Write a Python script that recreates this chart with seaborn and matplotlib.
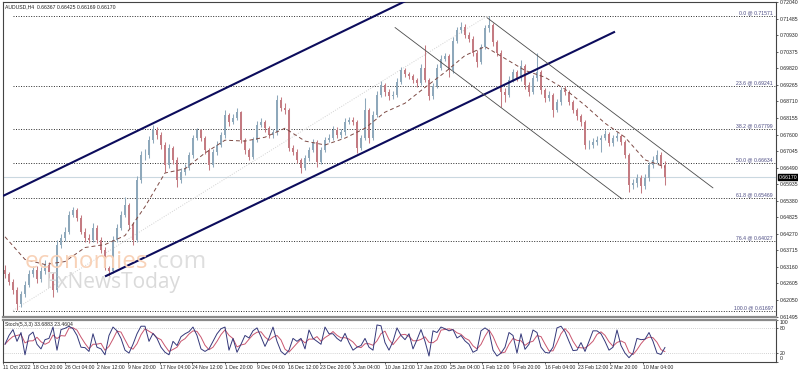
import numpy as np
import pandas as pd
import matplotlib
matplotlib.use("Agg")
import matplotlib.pyplot as plt
import matplotlib.transforms as mtransforms
import seaborn as sns

# ---- price data (AUDUSD, one candle per ~4 H4 bars) ----
first_open = 0.6307
closes = [
    0.6291, 0.6267, 0.6240, 0.6190, 0.6224, 0.6257, 0.6291, 0.6307, 0.6274, 0.6301,
    0.6324, 0.6291, 0.6240, 0.6391, 0.6414, 0.6434, 0.6491, 0.6508, 0.6481, 0.6434,
    0.6414, 0.6407, 0.6448, 0.6407, 0.6374, 0.6314, 0.6301, 0.6407, 0.6448, 0.6491,
    0.6524, 0.6458, 0.6407, 0.6608, 0.6691, 0.6691, 0.6741, 0.6775, 0.6758, 0.6725,
    0.6658, 0.6715, 0.6675, 0.6608, 0.6635, 0.6648, 0.6691, 0.6748, 0.6775, 0.6748,
    0.6708, 0.6658, 0.6701, 0.6725, 0.6758, 0.6825, 0.6802, 0.6815, 0.6835, 0.6741,
    0.6708, 0.6685, 0.6741, 0.6792, 0.6802, 0.6782, 0.6758, 0.6768, 0.6875, 0.6848,
    0.6842, 0.6715, 0.6701, 0.6675, 0.6648, 0.6681, 0.6708, 0.6735, 0.6668, 0.6708,
    0.6741, 0.6748, 0.6775, 0.6758, 0.6768, 0.6802, 0.6808, 0.6802, 0.6715, 0.6748,
    0.6842, 0.6748, 0.6825, 0.6892, 0.6925, 0.6902, 0.6888, 0.6892, 0.6935, 0.6975,
    0.6962, 0.6955, 0.6942, 0.6932, 0.6982, 0.6942, 0.6888, 0.6922, 0.6982, 0.7015,
    0.7022, 0.6975, 0.7075, 0.7109, 0.7122, 0.7095, 0.7082, 0.7035, 0.7002, 0.7055,
    0.7116, 0.7126, 0.7069, 0.7035, 0.6902, 0.6892, 0.6942, 0.6969, 0.6949, 0.6989,
    0.6925, 0.6902, 0.6949, 0.6969, 0.6908, 0.6882, 0.6892, 0.6842, 0.6868, 0.6908,
    0.6902, 0.6868, 0.6842, 0.6822, 0.6802, 0.6725, 0.6725, 0.6735, 0.6741, 0.6748,
    0.6761, 0.6731, 0.6748, 0.6755, 0.6735, 0.6691, 0.6591, 0.6598, 0.6615, 0.6588,
    0.6615, 0.6658, 0.6675, 0.6691, 0.6658, 0.6617,
]
highs = [
    0.6322, 0.6300, 0.6275, 0.6248, 0.6235, 0.6268, 0.6305, 0.6320, 0.6318, 0.6315,
    0.6338, 0.6332, 0.6300, 0.6407, 0.6428, 0.6450, 0.6502, 0.6518, 0.6515, 0.6490,
    0.6445, 0.6425, 0.6464, 0.6455, 0.6415, 0.6382, 0.6320, 0.6418, 0.6460, 0.6502,
    0.6551, 0.6532, 0.6466, 0.6620, 0.6705, 0.6712, 0.6755, 0.6791, 0.6785, 0.6768,
    0.6735, 0.6728, 0.6722, 0.6685, 0.6648, 0.6660, 0.6702, 0.6760, 0.6782, 0.6780,
    0.6755, 0.6715, 0.6712, 0.6738, 0.6770, 0.6842, 0.6832, 0.6828, 0.6848, 0.6840,
    0.6750, 0.6715, 0.6752, 0.6805, 0.6815, 0.6810, 0.6790, 0.6780, 0.6892, 0.6885,
    0.6865, 0.6848, 0.6725, 0.6710, 0.6682, 0.6692, 0.6718, 0.6745, 0.6742, 0.6718,
    0.6752, 0.6762, 0.6788, 0.6785, 0.6780, 0.6815, 0.6820, 0.6818, 0.6810, 0.6760,
    0.6882, 0.6850, 0.6838, 0.6905, 0.6938, 0.6932, 0.6912, 0.6905, 0.6948, 0.6985,
    0.6982, 0.6970, 0.6962, 0.6950, 0.6995, 0.7059, 0.6950, 0.6932, 0.6995, 0.7028,
    0.7035, 0.7030, 0.7088, 0.7120, 0.7136, 0.7130, 0.7105, 0.7090, 0.7042, 0.7065,
    0.7128, 0.7157, 0.7135, 0.7078, 0.7042, 0.6915, 0.6955, 0.6980, 0.6978, 0.7009,
    0.6995, 0.6935, 0.6960, 0.7032, 0.6975, 0.6915, 0.6905, 0.6900, 0.6880, 0.6918,
    0.6922, 0.6910, 0.6875, 0.6850, 0.6830, 0.6810, 0.6742, 0.6748, 0.6755, 0.6760,
    0.6775, 0.6768, 0.6758, 0.6768, 0.6762, 0.6742, 0.6698, 0.6610, 0.6628, 0.6625,
    0.6628, 0.6668, 0.6688, 0.6708, 0.6700, 0.6670,
]
lows = [
    0.6278, 0.6255, 0.6225, 0.6173, 0.6182, 0.6215, 0.6250, 0.6282, 0.6262, 0.6265,
    0.6292, 0.6280, 0.6216, 0.6232, 0.6380, 0.6402, 0.6425, 0.6482, 0.6470, 0.6425,
    0.6400, 0.6395, 0.6398, 0.6395, 0.6362, 0.6305, 0.6281, 0.6295, 0.6398, 0.6440,
    0.6482, 0.6448, 0.6391, 0.6400, 0.6598, 0.6675, 0.6682, 0.6732, 0.6745, 0.6712,
    0.6635, 0.6648, 0.6662, 0.6584, 0.6598, 0.6625, 0.6640, 0.6682, 0.6740, 0.6738,
    0.6695, 0.6641, 0.6650, 0.6692, 0.6718, 0.6750, 0.6790, 0.6795, 0.6808, 0.6730,
    0.6695, 0.6675, 0.6678, 0.6735, 0.6785, 0.6770, 0.6748, 0.6750, 0.6760, 0.6838,
    0.6830, 0.6705, 0.6690, 0.6665, 0.6631, 0.6640, 0.6672, 0.6700, 0.6651, 0.6660,
    0.6700, 0.6735, 0.6740, 0.6748, 0.6750, 0.6760, 0.6795, 0.6792, 0.6698, 0.6708,
    0.6740, 0.6731, 0.6740, 0.6818, 0.6885, 0.6890, 0.6875, 0.6878, 0.6885, 0.6928,
    0.6952, 0.6945, 0.6932, 0.6918, 0.6925, 0.6935, 0.6875, 0.6880, 0.6915, 0.6975,
    0.7005, 0.6952, 0.6968, 0.7068, 0.7100, 0.7085, 0.7070, 0.7022, 0.6985, 0.6995,
    0.7048, 0.7105, 0.7058, 0.7022, 0.6852, 0.6870, 0.6885, 0.6935, 0.6938, 0.6940,
    0.6912, 0.6890, 0.6895, 0.6940, 0.6895, 0.6870, 0.6872, 0.6818, 0.6835, 0.6860,
    0.6892, 0.6858, 0.6832, 0.6810, 0.6790, 0.6712, 0.6710, 0.6715, 0.6725, 0.6702,
    0.6740, 0.6720, 0.6722, 0.6738, 0.6725, 0.6680, 0.6568, 0.6578, 0.6585, 0.6564,
    0.6578, 0.6605, 0.6648, 0.6665, 0.6648, 0.6591,
]

# dashed moving average, read every 5 candles
ma_idx = list(range(0, 166, 5))
ma_vals = [
    0.6417, 0.6341, 0.6324, 0.6334, 0.6381, 0.6391, 0.6421, 0.6518, 0.6631, 0.6645,
    0.6698, 0.6741, 0.6738, 0.6751, 0.6781, 0.6738, 0.6725, 0.6748, 0.6781, 0.6835,
    0.6865, 0.6918, 0.6969, 0.7025, 0.7055, 0.7015, 0.6975, 0.6952, 0.6912, 0.6858,
    0.6798, 0.6751, 0.6675, 0.6651,
]

# stochastic %K (5,3,3)
stoch_k = [
    41, 62, 76, 48, 69, 16, 62, 70, 41, 30,
    52, 55, 82, 27, 76, 79, 84, 78, 62, 34,
    33, 24, 66, 34, 30, 16, 62, 82, 73, 55,
    27, 20, 41, 66, 84, 84, 48, 67, 55, 34,
    22, 16, 48, 38, 59, 66, 71, 82, 62, 30,
    24, 30, 48, 66, 78, 82, 27, 55, 22, 41,
    62, 56, 73, 80, 59, 36, 56, 82, 48, 24,
    16, 27, 55, 48, 55, 30, 75, 55, 48, 41,
    82, 66, 66, 55, 48, 67, 45, 27, 34, 38,
    55, 34, 27, 87, 85, 45, 27, 48, 80, 62,
    52, 66, 30, 52, 76, 48, 13, 73, 69, 82,
    78, 73, 76, 56, 62, 49, 41, 22, 27, 73,
    80, 73, 27, 13, 20, 34, 69, 62, 20, 66,
    29, 41, 75, 69, 34, 22, 20, 34, 80, 84,
    71, 48, 26, 27, 45, 24, 48, 73, 73, 66,
    48, 27, 34, 75, 38, 20, 9, 20, 55, 52,
    53, 69, 48, 20, 16.7, 33.7,
]

# fibonacci retracement
fib_pcts = ["0.0", "23.6", "38.2", "50.0", "61.8", "76.4", "100.0"]
fib_levels = [0.71571, 0.69241, 0.67799, 0.66634, 0.65469, 0.64027, 0.61697]
fib_anchor = [(2.0, 0.61697), (120.5, 0.71571)]

# trend lines (candle index, price)
channel_upper = [(-0.5, 0.6554), (101.25, 0.7215)]
channel_lower = [(25.0, 0.6284), (152.5, 0.7105)]
down_upper = [(120.5, 0.7152), (177.0, 0.6581)]
down_lower = [(97.5, 0.7119), (154.25, 0.6544)]

last_price = 0.66170
price_ticks = [0.72040, 0.71485, 0.70930, 0.70375, 0.69820, 0.69265, 0.68710,
               0.68155, 0.67600, 0.67045, 0.66490, 0.65935, 0.65380, 0.64825,
               0.64270, 0.63715, 0.63160, 0.62605, 0.62050, 0.61495]
date_labels = ["11 Oct 2022", "18 Oct 20:00", "26 Oct 04:00", "2 Nov 12:00",
               "9 Nov 20:00", "17 Nov 04:00", "24 Nov 12:00", "1 Dec 20:00",
               "9 Dec 04:00", "16 Dec 12:00", "23 Dec 20:00", "3 Jan 04:00",
               "10 Jan 12:00", "17 Jan 20:00", "25 Jan 04:00", "1 Feb 12:00",
               "9 Feb 20:00", "16 Feb 04:00", "23 Feb 12:00", "2 Mar 20:00",
               "10 Mar 04:00"]
date_pos = [-0.5, 7.0, 15.0, 23.0, 30.75, 38.75, 46.75, 55.0, 63.0, 70.75,
            78.75, 87.0, 95.0, 103.0, 111.25, 119.25, 127.0, 135.0, 143.25,
            151.25, 159.5]

# ---- style ----
sns.set_theme(style="white")
plt.rcParams["font.family"] = ["Liberation Sans", "DejaVu Sans"]
FS = 3.7
UP = "#8ea8bb"
DOWN = "#c47b82"

W, H = 798, 372
fig = plt.figure(figsize=(W / 100, H / 100), dpi=100)
fig.patch.set_facecolor("white")


def box(l, t, r, b):
    return [l / W, 1 - b / H, (r - l) / W, (b - t) / H]


ax = fig.add_axes(box(3, 2, 776, 317))
axs = fig.add_axes(box(3, 319.5, 776, 361.5), sharex=ax)

df = pd.DataFrame({
    "idx": np.arange(len(closes)),
    "open": [first_open] + closes[:-1],
    "high": highs,
    "low": lows,
    "close": closes,
})
df["up"] = df["close"] >= df["open"]
cols = np.where(df["up"], UP, DOWN)

# watermark
fig.text(25 / W, 1 - 268 / H, "economies", fontsize=17.5, color="#f8d2b8",
         family="Open Sans", va="baseline", zorder=0)
fig.text(151 / W, 1 - 268 / H, ".com", fontsize=17.5, color="#dedede",
         family="Open Sans", va="baseline", zorder=0)
fig.text(46 / W, 1 - 288 / H, "FxNewsToday", fontsize=15, color="#dadada",
         family="Open Sans", va="baseline", zorder=0)
ax.set_facecolor("none")

# current price line
ax.axhline(last_price, color="#cad8e0", lw=0.8, zorder=1)

# fib lines
xmax = 192.75
for pct, lvl in zip(fib_pcts, fib_levels):
    ax.hlines(lvl, fib_anchor[0][0], xmax, colors="#2a2a2a", linestyles=(0, (1, 1.6)),
              lw=0.7, zorder=1)
    ax.text(192.0, lvl + 0.0002, f"{pct} @ {lvl:.5f}", ha="right", va="bottom",
            fontsize=FS, color="#4a4a82", zorder=5)
ax.plot([p[0] for p in fib_anchor], [p[1] for p in fib_anchor], color="#d2d2d2",
        ls=(0, (1, 1.5)), lw=0.7, zorder=1)

# candles
ax.vlines(df["idx"], df["low"], df["high"], colors=cols, lw=0.75, zorder=2)
body = (df["close"] - df["open"]).abs().clip(lower=0.00015)
ax.bar(df["idx"], body, bottom=df[["open", "close"]].min(axis=1), width=0.45,
       color=cols, linewidth=0, zorder=3)

# moving average
sns.lineplot(x=ma_idx, y=ma_vals, ax=ax, color="#7d4a44", lw=0.7,
             linestyle=(0, (4, 3)), zorder=4)

# trend lines
for line in (channel_upper, channel_lower):
    ax.plot([p[0] for p in line], [p[1] for p in line], color="#0c0c5c", lw=1.5,
            zorder=5, solid_capstyle="butt")
for line in (down_upper, down_lower):
    ax.plot([p[0] for p in line], [p[1] for p in line], color="#4a4a4a", lw=0.6, zorder=5)

ax.set_xlim(-0.5, xmax)
ax.set_ylim(0.61480, 0.72045)
ax.yaxis.tick_right()
ax.set_yticks(price_ticks)
ax.set_yticklabels([f"{v:.5f}" for v in price_ticks])
ax.tick_params(axis="y", labelsize=FS, length=1.5, pad=1, colors="#222", width=0.5)
ax.tick_params(axis="x", bottom=False, labelbottom=False)
ax.set_xlabel("")
ax.set_ylabel("")
ax.text(1.003, last_price, f"{last_price:.5f}",
        transform=mtransforms.blended_transform_factory(ax.transAxes, ax.transData),
        ha="left", va="center", fontsize=FS, color="white", zorder=6, clip_on=False,
        bbox=dict(boxstyle="square,pad=0.15", fc="black", ec="black"))
ax.text(0.002, 0.993, "AUDUSD,H4  0.66367 0.66425 0.66169 0.66170",
        transform=ax.transAxes, ha="left", va="top", fontsize=FS, color="#222")

for s in ax.spines.values():
    s.set_color("#444")
    s.set_linewidth(0.8)
ax.spines["bottom"].set_color("#8a8a8a")
ax.spines["bottom"].set_linewidth(1.6)

# stochastic panel
stoch_d = pd.Series(stoch_k).rolling(3, min_periods=1).mean()
axs.axhline(80, color="#c4c4c4", ls=(0, (1, 1.5)), lw=0.6)
axs.axhline(20, color="#c4c4c4", ls=(0, (1, 1.5)), lw=0.6)
sns.lineplot(x=df["idx"], y=stoch_d, ax=axs, color="#c9566f", lw=0.7)
sns.lineplot(x=df["idx"], y=stoch_k, ax=axs, color="#34387a", lw=0.7)
axs.set_ylim(0, 100)
axs.yaxis.tick_right()
axs.set_yticks([100, 80, 20, 0])
axs.set_yticklabels(["100", "80", "20", "0"])
axs.tick_params(axis="y", labelsize=FS, length=1.5, pad=1, colors="#222", width=0.5)
ylabs = axs.get_yticklabels()
ylabs[0].set_va("top")
ylabs[3].set_va("bottom")
axs.set_xticks(date_pos)
axs.set_xticklabels(date_labels, ha="left")
axs.tick_params(axis="x", labelsize=FS, length=1.5, pad=1, colors="#222", width=0.5,
                bottom=True)
axs.set_xlabel("")
axs.set_ylabel("")
axs.text(0.002, 0.93, "Stoch(5,3,3) 33.6883 23.4604", transform=axs.transAxes,
         ha="left", va="top", fontsize=FS, color="#222")
for s in axs.spines.values():
    s.set_color("#444")
    s.set_linewidth(0.8)
axs.spines["top"].set_color("#8a8a8a")
axs.spines["top"].set_linewidth(1.6)

fig.savefig("out.png", dpi=100, facecolor="white")
